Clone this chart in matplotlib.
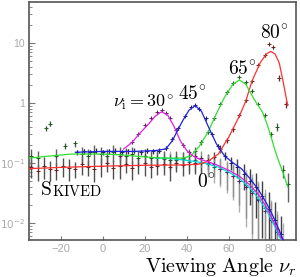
import numpy as np
import matplotlib
matplotlib.use('Agg')
import matplotlib.pyplot as plt
from matplotlib.ticker import FixedLocator, LogLocator, NullFormatter

plt.rcParams['mathtext.fontset'] = 'cm'
plt.rcParams['font.family'] = ['Liberation Sans', 'DejaVu Sans']

# fitted curves (viewing angle, intensity) for each incidence angle
red_cx = [-35, -20, 0, 20, 35, 45, 50, 55, 60, 65, 68, 71, 75, 78, 80, 82, 84, 86, 88]
red_cy = [0.080, 0.084, 0.088, 0.091, 0.092, 0.094, 0.105, 0.14, 0.27, 0.6, 1.05, 2.3, 4.7, 6.6, 7.2, 6.5, 4.6, 2.1, 0.9]
green_cx = [-35, -25, -15, 0, 10, 20, 30, 38, 42, 46, 50, 54, 58, 62, 65, 68, 72, 76, 78, 80, 82, 84, 86, 88]
green_cy = [0.12, 0.13, 0.14, 0.14, 0.135, 0.125, 0.12, 0.12, 0.13, 0.19, 0.32, 0.65, 1.25, 2.05, 2.4, 2.05, 1.15, 0.7, 0.46, 0.28, 0.16, 0.1, 0.065, 0.04]
blue_cx = [-13, 0, 15, 25, 30, 33, 38, 41, 44, 47, 50, 54, 58, 62, 66, 70, 74, 78, 81, 84, 86]
blue_cy = [0.15, 0.155, 0.155, 0.16, 0.17, 0.23, 0.5, 0.75, 0.9, 0.72, 0.42, 0.21, 0.13, 0.1, 0.08, 0.055, 0.036, 0.021, 0.013, 0.0075, 0.005]
mag_cx = [10, 14, 18, 22, 25, 28, 31, 34, 37, 40, 43, 46, 50, 55, 60, 65, 70, 74, 78, 81, 84, 85.5]
mag_cy = [0.17, 0.22, 0.32, 0.45, 0.6, 0.71, 0.62, 0.4, 0.23, 0.16, 0.13, 0.115, 0.105, 0.09, 0.075, 0.06, 0.043, 0.03, 0.018, 0.011, 0.0065, 0.005]
cyan_cx = [25, 30, 40, 48, 55, 60, 65, 70, 74, 78, 81, 84, 85]
cyan_cy = [0.12, 0.12, 0.11, 0.1, 0.085, 0.07, 0.055, 0.038, 0.026, 0.016, 0.01, 0.006, 0.005]

# measured points with relative errors
red_x = [-34, -31, -28, -25, -22, -19, -16, -13, -10, -7, -4, -1, 2, 5, 8, 11, 14, 17, 20, 23,
         26, 29, 32, 35, 38, 41, 44, 47, 50, 53, 56, 59, 62, 65, 68, 71, 74, 77, 79, 81, 84, 87]
red_y = [0.085, 0.072, 0.09, 0.078, 0.075, 0.088, 0.082, 0.079, 0.095, 0.086, 0.08, 0.09, 0.1, 0.083, 0.09, 0.096, 0.081, 0.092, 0.1, 0.086,
         0.09, 0.097, 0.084, 0.1, 0.092, 0.094, 0.1, 0.098, 0.11, 0.125, 0.17, 0.24, 0.36, 0.62, 1.1, 2.3, 4.2, 6.2, 9.5, 8.4, 2.6, 0.95]
red_e = [0.35, 0.3, 0.4, 0.35, 0.3, 0.35, 0.4, 0.3, 0.35, 0.3, 0.4, 0.35, 0.3, 0.35, 0.4, 0.3, 0.35, 0.3, 0.4, 0.35,
         0.3, 0.35, 0.4, 0.3, 0.35, 0.3, 0.35, 0.3, 0.3, 0.2, 0.15, 0.1, 0.08, 0.06, 0.05, 0.05, 0.05, 0.05, 0.05, 0.06, 0.1, 0.15]
green_x = [-34, -31, -27, -25, -22, -18, -13, -10, -7, -4, -1, 2, 5, 8, 11, 14, 17, 20, 23, 26,
           29, 32, 35, 38, 41, 44, 47, 50, 53, 56, 59, 62, 65, 68, 71, 74, 77, 80, 83, 86, 88]
green_y = [0.13, 0.12, 0.38, 0.45, 0.13, 0.19, 0.21, 0.14, 0.13, 0.15, 0.14, 0.13, 0.15, 0.14, 0.13, 0.14, 0.12, 0.13, 0.12, 0.125,
           0.12, 0.11, 0.12, 0.12, 0.13, 0.16, 0.22, 0.33, 0.55, 0.95, 1.5, 2.1, 2.7, 2.2, 1.6, 0.95, 0.62, 0.3, 0.4, 0.075, 0.045]
green_e = [0.3, 0.3, 0.1, 0.1, 0.3, 0.12, 0.12, 0.3, 0.3, 0.3, 0.3, 0.3, 0.3, 0.3, 0.3, 0.3, 0.3, 0.3, 0.3, 0.3,
           0.3, 0.3, 0.3, 0.25, 0.2, 0.15, 0.1, 0.08, 0.06, 0.05, 0.05, 0.05, 0.05, 0.05, 0.05, 0.05, 0.06, 0.1, 0.15, 0.25, 0.5]
blue_x = [-12, -9, -6, -3, 0, 3, 6, 9, 12, 15, 18, 21, 24, 27, 30, 33, 36, 39, 42, 44,
          46, 49, 52, 55, 58, 61, 64, 67, 70, 73, 76, 79, 82, 85]
blue_y = [0.15, 0.155, 0.15, 0.16, 0.15, 0.155, 0.16, 0.15, 0.155, 0.16, 0.15, 0.16, 0.155, 0.16, 0.18, 0.25, 0.38, 0.6, 0.85, 0.92,
          0.8, 0.55, 0.3, 0.19, 0.13, 0.1, 0.085, 0.065, 0.05, 0.04, 0.028, 0.017, 0.011, 0.0065]
blue_e = [0.1, 0.1, 0.1, 0.1, 0.1, 0.1, 0.1, 0.1, 0.1, 0.1, 0.1, 0.1, 0.1, 0.1, 0.08, 0.07, 0.06, 0.05, 0.05, 0.05,
          0.05, 0.05, 0.06, 0.08, 0.15, 0.25, 0.35, 0.45, 0.6, 0.7, 0.8, 0.9, 1.0, 1.0]
mag_x = [8, 11, 14, 17, 20, 23, 26, 28, 30, 32, 35, 38, 41, 44, 47, 50, 53, 56, 59, 62, 65, 68, 71, 74, 77, 80, 83]
mag_y = [0.13, 0.16, 0.22, 0.3, 0.42, 0.55, 0.7, 0.75, 0.68, 0.55, 0.35, 0.2, 0.15, 0.13, 0.12, 0.1, 0.095, 0.08, 0.07, 0.06,
         0.05, 0.04, 0.032, 0.024, 0.016, 0.011, 0.007]
mag_e = [0.1, 0.1, 0.08, 0.06, 0.05, 0.05, 0.05, 0.05, 0.05, 0.05, 0.06, 0.08, 0.12, 0.2, 0.3, 0.35, 0.4, 0.45, 0.5, 0.55,
         0.6, 0.7, 0.8, 0.9, 1.0, 1.0, 1.0]
cyan_x = [26, 29, 32, 35, 38, 41, 44, 47, 50, 53, 56, 59, 62, 65, 68, 71, 74, 77, 80, 83, 86]
cyan_y = [0.12, 0.115, 0.12, 0.11, 0.115, 0.105, 0.11, 0.1, 0.095, 0.085, 0.08, 0.07, 0.06, 0.05, 0.042, 0.034, 0.025, 0.018, 0.012, 0.008, 0.005]
cyan_e = [0.3, 0.3, 0.3, 0.3, 0.3, 0.3, 0.35, 0.35, 0.4, 0.45, 0.5, 0.55, 0.6, 0.7, 0.8, 0.9, 1.0, 1.0, 1.0, 1.0, 1.0]

series = [
    # x, y, rel err, curve x, curve y, line colour, marker colour, bar colour
    (cyan_x, cyan_y, cyan_e, cyan_cx, cyan_cy, '#00d8d8', '#206a6a', '#b0b0b0'),
    (red_x, red_y, red_e, red_cx, red_cy, '#ff3030', '#6a2020', '#505050'),
    (green_x, green_y, green_e, green_cx, green_cy, '#30e030', '#205a20', '#606060'),
    (mag_x, mag_y, mag_e, mag_cx, mag_cy, '#e020e0', '#602060', '#909090'),
    (blue_x, blue_y, blue_e, blue_cx, blue_cy, '#2020e0', '#20206a', '#404040'),
]

fig = plt.figure(figsize=(3.0, 2.77), dpi=100)
ax = fig.add_axes([0.097, 0.134, 0.89, 0.859])

for x, y, e, cx, cy, lc, mc, bc in series:
    x = np.array(x); y = np.array(y); e = np.array(e) * y
    lo = np.maximum(y - e, 1e-4)
    ax.errorbar(x, y, yerr=[y - lo, e], fmt='none', ecolor=bc, elinewidth=1.0, zorder=2)
    ax.plot(x, y, '+', color=mc, ms=3, mew=0.7, zorder=3)
for x, y, e, cx, cy, lc, mc, bc in series:
    ax.plot(cx, cy, '-', color=lc, lw=0.9, zorder=4)

ax.set_yscale('log')
ax.set_xlim(-35, 92)
ax.set_ylim(0.0052, 48)

ax.set_xticks([-20, 0, 20, 40, 60, 80])
ax.set_xticklabels(['\u221220', '0', '20', '40', '60', '80'])
ax.yaxis.set_major_locator(FixedLocator([0.01, 0.1, 1, 10]))
ax.set_yticklabels(['$10^{-2}$', '$10^{-1}$', '1', '10'])
ax.yaxis.set_minor_locator(LogLocator(base=10, subs=np.arange(2, 10)))
ax.yaxis.set_minor_formatter(NullFormatter())
for lab in ax.get_yticklabels():
    lab.set_math_fontfamily('dejavusans')
ax.tick_params(axis='both', which='major', direction='in', length=4, width=0.8,
               colors='#777777', labelcolor='#aaaaaa', labelsize=7.5, pad=3)
ax.tick_params(axis='y', which='minor', direction='in', length=2, width=0.6, color='#777777')
ax.tick_params(axis='x', which='major', length=3, pad=3, labelsize=8)
for s in ax.spines.values():
    s.set_color('#555555')
    s.set_linewidth(1.2)

fs = 14
deg = r'^{\!\circ}'
ax.text(5.0, 0.86, r'$\nu_\mathrm{i} = 30' + deg + '$', fontsize=13, ha='left', va='baseline', math_fontfamily='cm')
ax.text(35.8, 1.12, r'$45' + deg + '$', fontsize=fs, ha='left', va='baseline', math_fontfamily='cm')
ax.text(59.5, 2.93, r'$65' + deg + '$', fontsize=fs, ha='left', va='baseline', math_fontfamily='cm')
ax.text(74.8, 11.7, r'$80' + deg + '$', fontsize=fs, ha='left', va='baseline', math_fontfamily='cm')
ax.text(44.8, 0.038, r'$0' + deg + '$', fontsize=fs, ha='left', va='baseline', math_fontfamily='cm')
t = ax.text(-30, 0.029, r'$\mathrm{S}$', fontsize=fs, ha='left', va='baseline', math_fontfamily='cm')
ax.annotate(r'$\mathrm{KIVED}$', xy=(1, 0), xycoords=t, xytext=(0.5, 0), textcoords='offset points',
            fontsize=10.5, ha='left', va='bottom', math_fontfamily='cm')

fig.text(297 / 300, 1 - 272 / 277, r'$\mathrm{Viewing\ Angle}\ \nu_r$', fontsize=14.5,
         ha='right', va='baseline', math_fontfamily='cm')

fig.savefig('out.png', dpi=100)
